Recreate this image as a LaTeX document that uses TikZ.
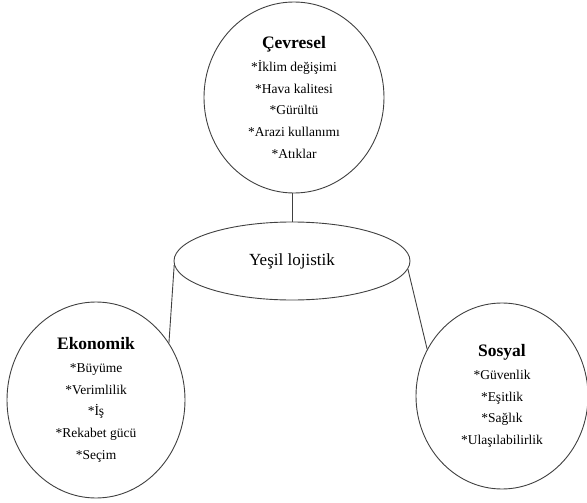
\documentclass[tikz,border=0pt]{standalone}
\usepackage{fontspec}
\setmainfont{Liberation Serif}
\usetikzlibrary{shapes.geometric, positioning}
\tikzset{
-, % plain lines between the ellipses
x=1pt, y=1pt, % one unit is one pixel of the reference
topic/.style={ellipse, draw=black!75, line width=0.9pt, inner sep=0pt, align=center, font=\fontsize{13.5}{21.7}\selectfont}, % the three outer ellipses
hub/.style={topic, font=\fontsize{17}{20}\selectfont}, % the central ellipse
}
\newcommand{\baslik}[1]{{\bfseries\fontsize{17.5}{24}\selectfont #1}\\[1pt]}

\begin{document}
\begin{tikzpicture}
      \useasboundingbox (0,0) rectangle (587,-503);
      \node[topic, minimum width=180pt, minimum height=191pt] (cevre) at (294,-97.5)
        {\baslik{Çevresel}*İklim değişimi\\*Hava kalitesi\\*Gürültü\\*Arazi kullanımı\\*Atıklar};
      \node[hub, minimum width=236pt, minimum height=78pt, node distance=163.5pt, below of=cevre, xshift=-2pt] (yesil) {Yeşil lojistik};
      \node[topic, minimum width=178pt, minimum height=196pt, node distance=139pt, below of=yesil, xshift=-196pt] (ekonomik)
        {\baslik{Ekonomik}*Büyüme\\*Verimlilik\\*İş\\*Rekabet gücü\\*Seçim};
      \node[topic, minimum width=172pt, minimum height=186pt, node distance=135pt, below of=yesil, xshift=210pt] (sosyal)
        {\baslik{Sosyal}*Güvenlik\\*Eşitlik\\*Sağlık\\*Ulaşılabilirlik};

      \draw[draw=black!75, line width=0.9pt] (yesil.north) edge node{} (yesil.north |- cevre.south)
      (yesil.182.4) edge node{} (ekonomik.38.8)
      (yesil.-4.5) edge node{} (sosyal.148.5);
    \end{tikzpicture}
\end{document}
